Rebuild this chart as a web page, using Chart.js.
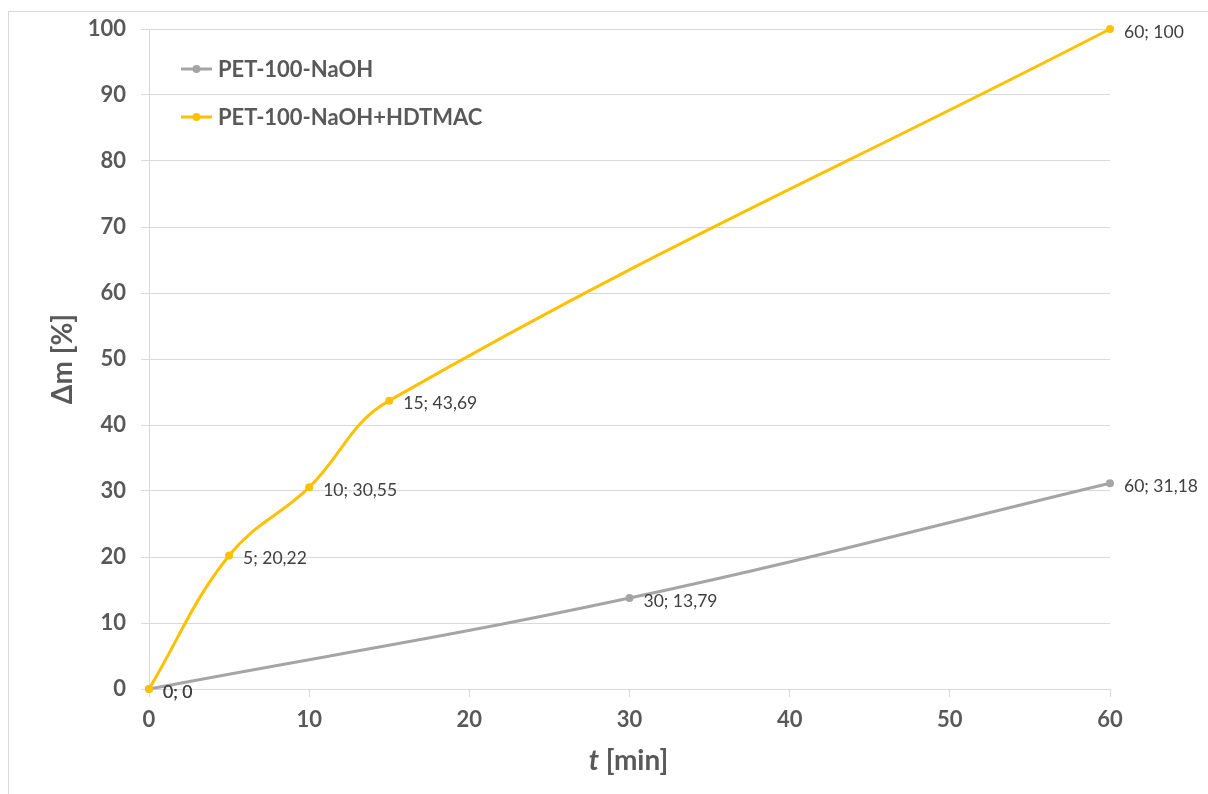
<!DOCTYPE html>
<html>
<head>
<meta charset="utf-8">
<script src="https://cdn.jsdelivr.net/npm/chart.js@4"></script>
<style>
  html, body { margin: 0; padding: 0; background: #fff; }
  #wrap { position: relative; width: 1208px; height: 794px; }
</style>
</head>
<body>
<div id="wrap"><canvas id="myChart"></canvas></div>
<script>
// data
const seriesNames = ['PET-100-NaOH', 'PET-100-NaOH+HDTMAC'];
const timeNaOH = [0, 30, 60];
const massNaOH = [0, 13.79, 31.18];
const timeHDTMAC = [0, 5, 10, 15, 60];
const massHDTMAC = [0, 20.22, 30.55, 43.69, 100];
const xTicks = [0, 10, 20, 30, 40, 50, 60];
const yTicks = [0, 10, 20, 30, 40, 50, 60, 70, 80, 90, 100];

const GREY = '#A5A5A5';
const GOLD = '#FFC000';
const TEXT = '#595959';
const GRID = '#d9d9d9';
const FONT = 'Lato, "Open Sans", sans-serif';

const toPoints = (xs, ys) => xs.map((x, i) => ({ x: x, y: ys[i] }));
const fmt = (v) => String(v).replace('.', ',');

// outer frame, data labels, legend and x title
const extras = {
  id: 'extras',
  beforeDraw(chart) {
    const c = chart.ctx;
    c.save();
    c.strokeStyle = GRID;
    c.lineWidth = 1;
    c.strokeRect(8.5, 11.5, 1400, 1000);
    c.restore();
  },
  afterDraw(chart) {
    const c = chart.ctx;
    const area = chart.chartArea;
    c.save();
    // point labels
    c.font = '17.5px ' + FONT;
    c.fillStyle = '#404040';
    c.textBaseline = 'middle';
    c.textAlign = 'left';
    chart.data.datasets.forEach((ds, i) => {
      chart.getDatasetMeta(i).data.forEach((el, j) => {
        const p = ds.data[j];
        c.fillText(fmt(p.x) + '; ' + fmt(p.y), el.x + 14, el.y + 3);
      });
    });
    // legend
    c.font = 'bold 22px ' + FONT;
    chart.data.datasets.forEach((ds, i) => {
      const y = area.top + 40 + i * 48;
      c.strokeStyle = ds.borderColor;
      c.lineWidth = 3;
      c.beginPath();
      c.moveTo(181, y);
      c.lineTo(212, y);
      c.stroke();
      c.fillStyle = ds.borderColor;
      c.beginPath();
      c.arc(196.5, y, 4, 0, Math.PI * 2);
      c.fill();
      c.fillStyle = TEXT;
      c.fillText(ds.label, 218, y + 1);
    });
    // x axis title with italic t
    const ty = area.bottom + 72;
    c.font = 'italic bold 28px ' + FONT;
    const w1 = c.measureText('t').width;
    c.font = 'bold 28px ' + FONT;
    const w2 = c.measureText(' [min]').width;
    const cx = (area.left + area.right) / 2 - 1;
    const x0 = cx - (w1 + w2) / 2;
    c.fillStyle = TEXT;
    c.font = 'italic bold 28px ' + FONT;
    c.fillText('t', x0, ty);
    c.font = 'bold 28px ' + FONT;
    c.fillText(' [min]', x0 + w1, ty);
    c.restore();
  }
};

const ctx = document.getElementById('myChart');
new Chart(ctx, {
  type: 'line',
  data: {
    datasets: [{
      label: seriesNames[0],
      data: toPoints(timeNaOH, massNaOH),
      borderColor: GREY,
      backgroundColor: GREY,
      borderWidth: 3,
      pointRadius: 4,
      pointBorderWidth: 0,
      tension: 0.4,
      order: 1
    }, {
      label: seriesNames[1],
      data: toPoints(timeHDTMAC, massHDTMAC),
      borderColor: GOLD,
      backgroundColor: GOLD,
      borderWidth: 3,
      pointRadius: 4,
      pointBorderWidth: 0,
      tension: 0.4,
      order: 0
    }]
  },
  options: {
    responsive: true,
    maintainAspectRatio: false,
    animation: false,
    clip: false,
    layout: { padding: { top: 29, right: 98, bottom: 0, left: 0 } },
    plugins: {
      legend: { display: false },
      tooltip: { enabled: false }
    },
    scales: {
      x: {
        type: 'linear',
        min: 0,
        max: 60,
        afterBuildTicks: (s) => { s.ticks = xTicks.map((v) => ({ value: v })); },
        afterFit: (s) => { s.height = 105; },
        border: { display: true, color: GRID, width: 1 },
        grid: { drawOnChartArea: false, drawTicks: true, tickLength: 8, color: GRID },
        ticks: { color: TEXT, font: { family: FONT, size: 22, weight: 'bold' }, padding: 10, maxRotation: 0 }
      },
      y: {
        min: 0,
        max: 100,
        afterBuildTicks: (s) => { s.ticks = yTicks.map((v) => ({ value: v })); },
        afterFit: (s) => { s.width = 149; },
        border: { display: true, color: GRID, width: 1 },
        grid: { color: GRID, drawTicks: true, tickLength: 8 },
        ticks: { color: TEXT, font: { family: FONT, size: 22, weight: 'bold' }, padding: 15 },
        title: {
          display: true,
          text: 'Δm [%]',
          color: TEXT,
          font: { family: FONT, size: 28, weight: 'bold' },
          padding: { top: 46, bottom: 0 }
        }
      }
    }
  },
  plugins: [extras]
});
</script>
</body>
</html>
